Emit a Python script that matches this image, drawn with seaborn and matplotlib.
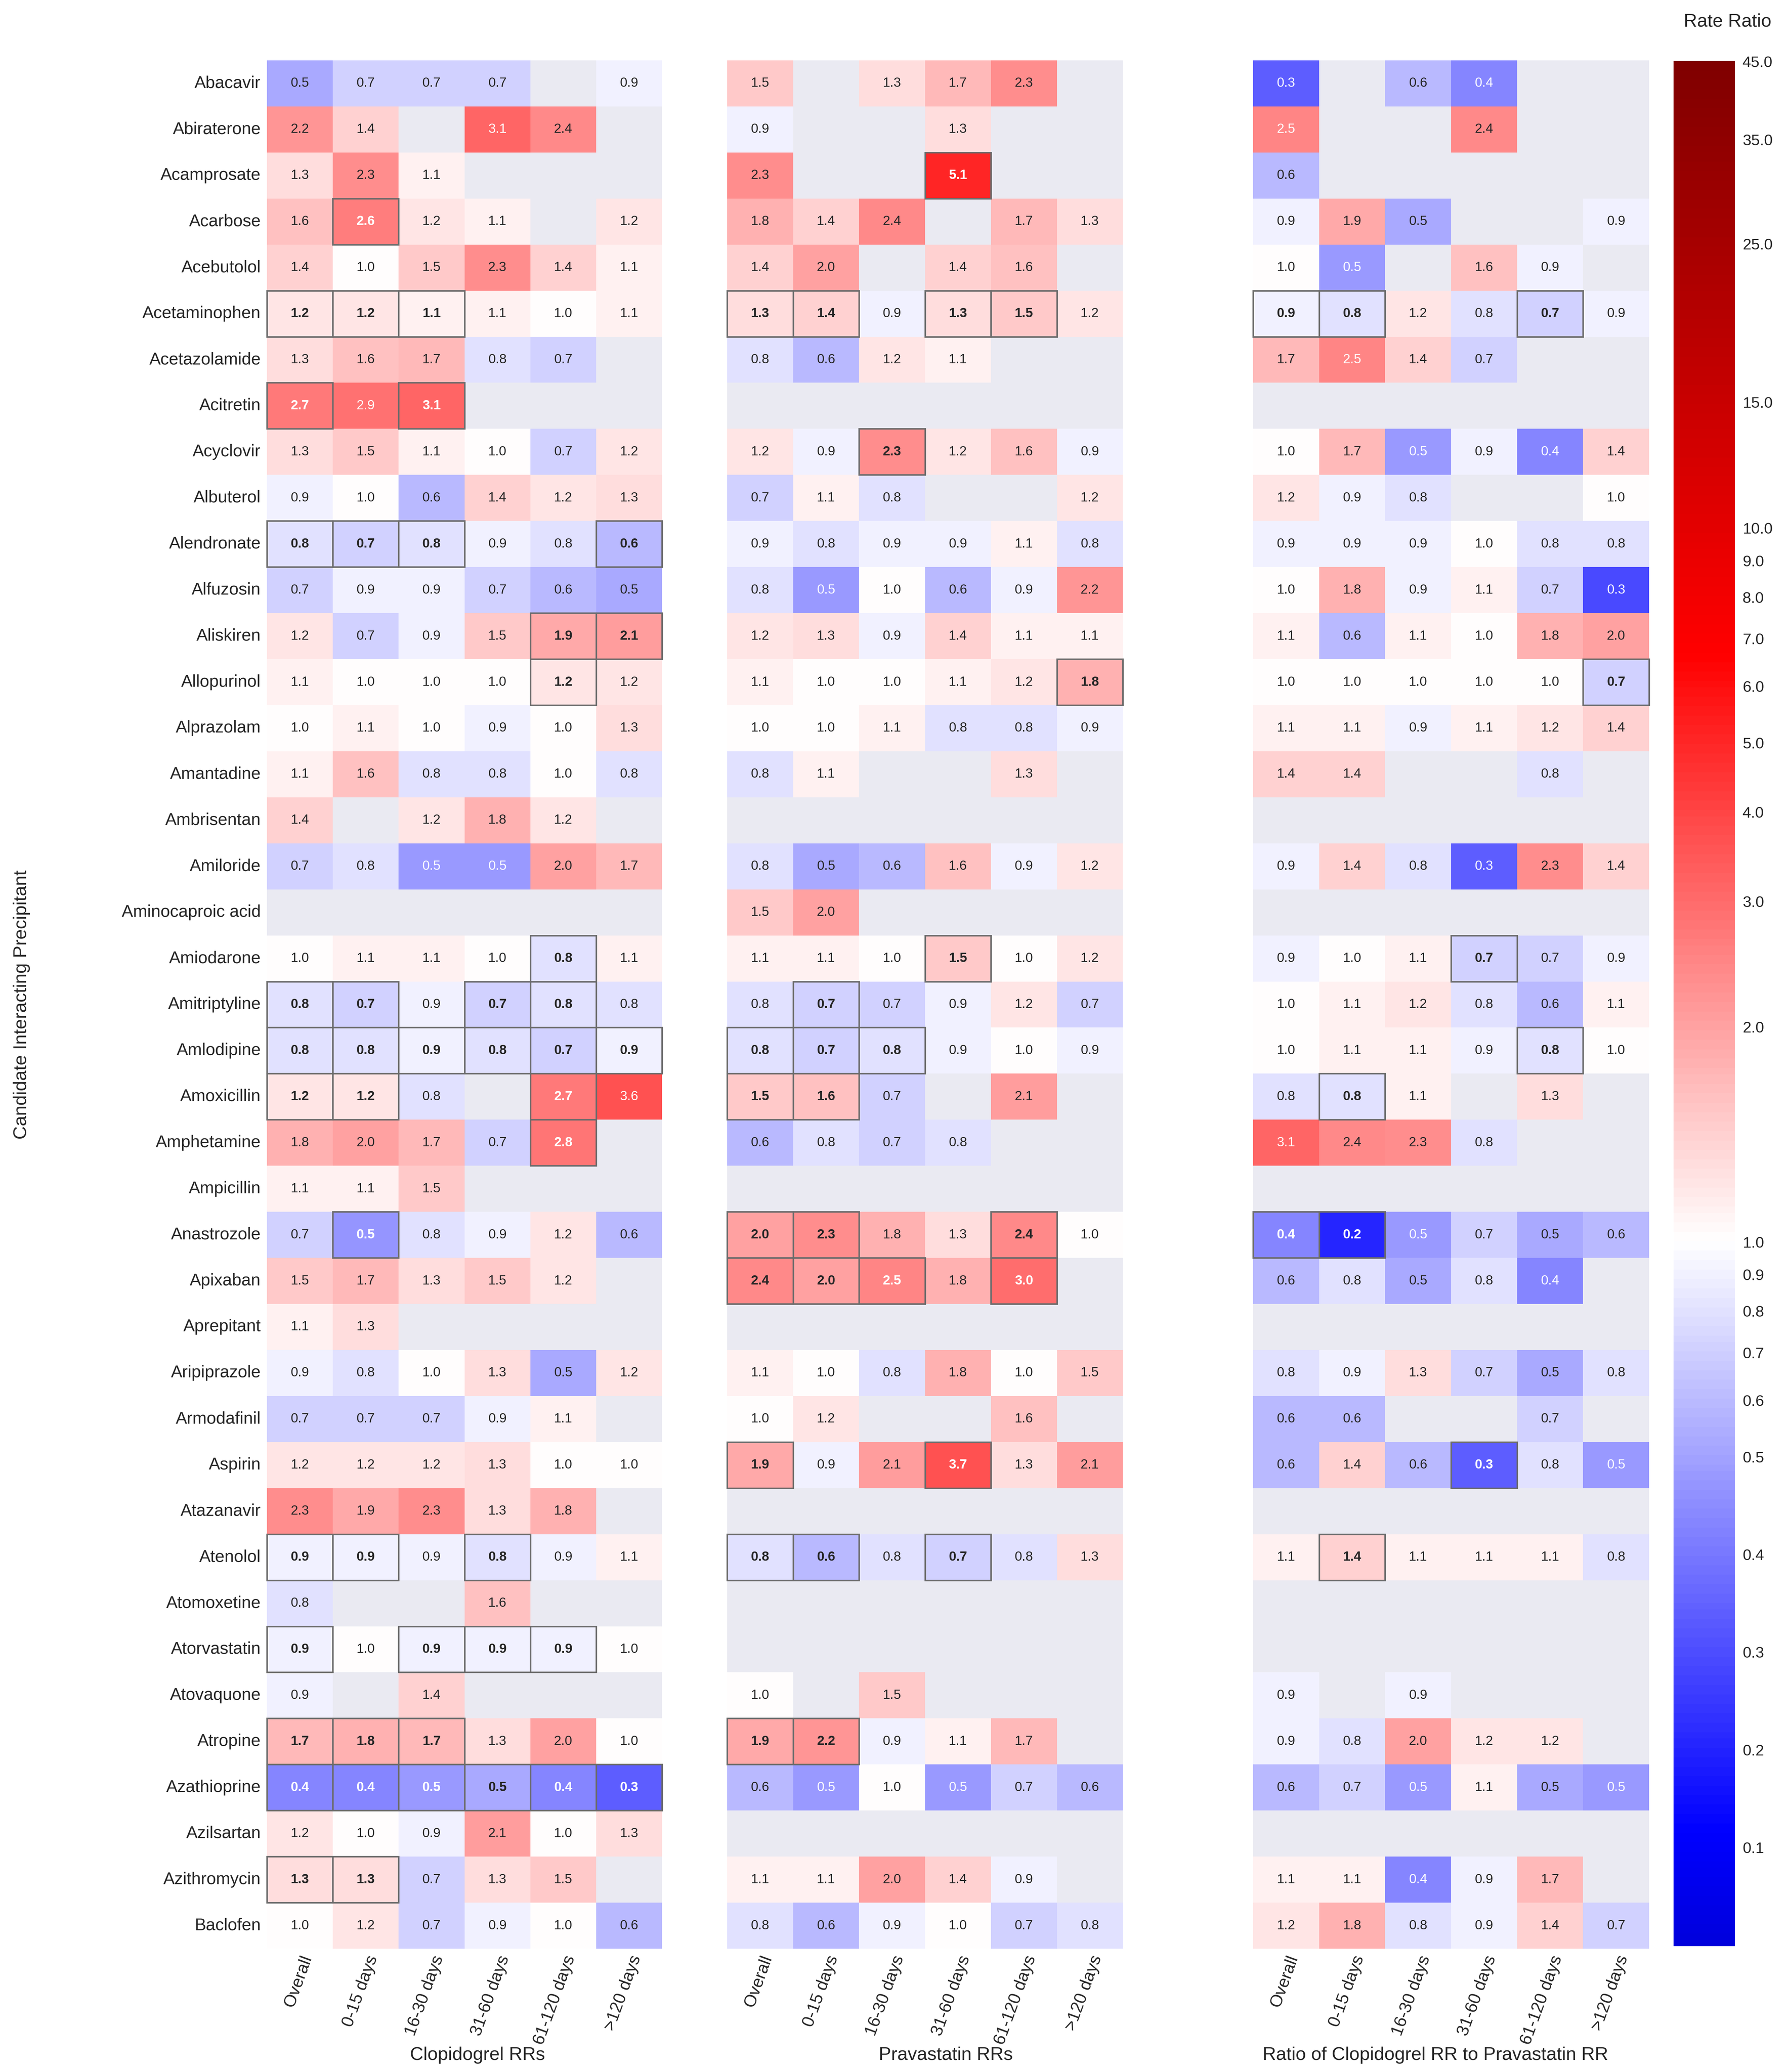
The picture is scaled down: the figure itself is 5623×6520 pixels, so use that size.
import numpy as np
import matplotlib
matplotlib.use("Agg")
import matplotlib.pyplot as plt
import seaborn as sns
from matplotlib.patches import Rectangle

nan = np.nan

drugs = ["Abacavir", "Abiraterone", "Acamprosate", "Acarbose", "Acebutolol",
         "Acetaminophen", "Acetazolamide", "Acitretin", "Acyclovir", "Albuterol",
         "Alendronate", "Alfuzosin", "Aliskiren", "Allopurinol", "Alprazolam",
         "Amantadine", "Ambrisentan", "Amiloride", "Aminocaproic acid", "Amiodarone",
         "Amitriptyline", "Amlodipine", "Amoxicillin", "Amphetamine", "Ampicillin",
         "Anastrozole", "Apixaban", "Aprepitant", "Aripiprazole", "Armodafinil",
         "Aspirin", "Atazanavir", "Atenolol", "Atomoxetine", "Atorvastatin",
         "Atovaquone", "Atropine", "Azathioprine", "Azilsartan", "Azithromycin",
         "Baclofen"]

periods = ["Overall", "0-15 days", "16-30 days", "31-60 days", "61-120 days", ">120 days"]

clopidogrel_rr = [
    [0.52, 0.7, 0.7, 0.7, nan, 0.9],
    [2.2, 1.4, nan, 3.1, 2.4, nan],
    [1.3, 2.3, 1.1, nan, nan, nan],
    [1.6, 2.6, 1.2, 1.1, nan, 1.2],
    [1.4, 1.0, 1.5, 2.3, 1.4, 1.1],
    [1.2, 1.2, 1.1, 1.1, 1.0, 1.1],
    [1.3, 1.6, 1.7, 0.8, 0.7, nan],
    [2.7, 2.9, 3.1, nan, nan, nan],
    [1.3, 1.5, 1.1, 1.0, 0.7, 1.2],
    [0.9, 1.0, 0.6, 1.4, 1.2, 1.3],
    [0.8, 0.7, 0.8, 0.9, 0.8, 0.6],
    [0.7, 0.9, 0.9, 0.7, 0.6, 0.52],
    [1.2, 0.7, 0.9, 1.5, 1.9, 2.1],
    [1.1, 1.0, 1.0, 1.0, 1.2, 1.2],
    [1.0, 1.1, 1.0, 0.9, 1.0, 1.3],
    [1.1, 1.6, 0.8, 0.8, 1.0, 0.8],
    [1.4, nan, 1.2, 1.8, 1.2, nan],
    [0.7, 0.8, 0.47, 0.47, 2.0, 1.7],
    [nan, nan, nan, nan, nan, nan],
    [1.0, 1.1, 1.1, 1.0, 0.8, 1.1],
    [0.8, 0.7, 0.9, 0.7, 0.8, 0.8],
    [0.8, 0.8, 0.9, 0.8, 0.7, 0.9],
    [1.2, 1.2, 0.8, nan, 2.7, 3.6],
    [1.8, 2.0, 1.7, 0.7, 2.8, nan],
    [1.1, 1.1, 1.5, nan, nan, nan],
    [0.7, 0.46, 0.8, 0.9, 1.2, 0.6],
    [1.5, 1.7, 1.3, 1.5, 1.2, nan],
    [1.1, 1.3, nan, nan, nan, nan],
    [0.9, 0.8, 1.0, 1.3, 0.52, 1.2],
    [0.7, 0.7, 0.7, 0.9, 1.1, nan],
    [1.2, 1.2, 1.2, 1.3, 1.0, 1.0],
    [2.3, 1.9, 2.3, 1.3, 1.8, nan],
    [0.9, 0.9, 0.9, 0.8, 0.9, 1.1],
    [0.8, nan, nan, 1.6, nan, nan],
    [0.9, 1.0, 0.9, 0.9, 0.9, 1.0],
    [0.9, nan, 1.4, nan, nan, nan],
    [1.7, 1.8, 1.7, 1.3, 2.0, 1.0],
    [0.4, 0.4, 0.47, 0.53, 0.4, 0.3],
    [1.2, 1.0, 0.9, 2.1, 1.0, 1.3],
    [1.3, 1.3, 0.7, 1.3, 1.5, nan],
    [1.0, 1.2, 0.7, 0.9, 1.0, 0.6],
]

pravastatin_rr = [
    [1.5, nan, 1.3, 1.7, 2.3, nan],
    [0.9, nan, nan, 1.3, nan, nan],
    [2.3, nan, nan, 5.1, nan, nan],
    [1.8, 1.4, 2.4, nan, 1.7, 1.3],
    [1.4, 2.0, nan, 1.4, 1.6, nan],
    [1.3, 1.4, 0.9, 1.3, 1.5, 1.2],
    [0.8, 0.6, 1.2, 1.1, nan, nan],
    [nan, nan, nan, nan, nan, nan],
    [1.2, 0.9, 2.3, 1.2, 1.6, 0.9],
    [0.7, 1.1, 0.8, nan, nan, 1.2],
    [0.9, 0.8, 0.9, 0.9, 1.1, 0.8],
    [0.8, 0.47, 1.0, 0.6, 0.9, 2.2],
    [1.2, 1.3, 0.9, 1.4, 1.1, 1.1],
    [1.1, 1.0, 1.0, 1.1, 1.2, 1.8],
    [1.0, 1.0, 1.1, 0.8, 0.8, 0.9],
    [0.8, 1.1, nan, nan, 1.3, nan],
    [nan, nan, nan, nan, nan, nan],
    [0.8, 0.52, 0.6, 1.6, 0.9, 1.2],
    [1.5, 2.0, nan, nan, nan, nan],
    [1.1, 1.1, 1.0, 1.5, 1.0, 1.2],
    [0.8, 0.7, 0.7, 0.9, 1.2, 0.7],
    [0.8, 0.7, 0.8, 0.9, 1.0, 0.9],
    [1.5, 1.6, 0.7, nan, 2.1, nan],
    [0.6, 0.8, 0.7, 0.8, nan, nan],
    [nan, nan, nan, nan, nan, nan],
    [2.0, 2.3, 1.8, 1.3, 2.4, 1.0],
    [2.4, 2.0, 2.5, 1.8, 3.0, nan],
    [nan, nan, nan, nan, nan, nan],
    [1.1, 1.0, 0.8, 1.8, 1.0, 1.5],
    [1.0, 1.2, nan, nan, 1.6, nan],
    [1.9, 0.9, 2.1, 3.7, 1.3, 2.1],
    [nan, nan, nan, nan, nan, nan],
    [0.8, 0.6, 0.8, 0.7, 0.8, 1.3],
    [nan, nan, nan, nan, nan, nan],
    [nan, nan, nan, nan, nan, nan],
    [1.0, nan, 1.5, nan, nan, nan],
    [1.9, 2.2, 0.9, 1.1, 1.7, nan],
    [0.6, 0.47, 1.0, 0.47, 0.7, 0.6],
    [nan, nan, nan, nan, nan, nan],
    [1.1, 1.1, 2.0, 1.4, 0.9, nan],
    [0.8, 0.6, 0.9, 1.0, 0.7, 0.8],
]

ratio_rr = [
    [0.3, nan, 0.6, 0.4, nan, nan],
    [2.5, nan, nan, 2.4, nan, nan],
    [0.6, nan, nan, nan, nan, nan],
    [0.9, 1.9, 0.52, nan, nan, 0.9],
    [1.0, 0.47, nan, 1.6, 0.9, nan],
    [0.9, 0.8, 1.2, 0.8, 0.7, 0.9],
    [1.7, 2.5, 1.4, 0.7, nan, nan],
    [nan, nan, nan, nan, nan, nan],
    [1.0, 1.7, 0.47, 0.9, 0.4, 1.4],
    [1.2, 0.9, 0.8, nan, nan, 1.0],
    [0.9, 0.9, 0.9, 1.0, 0.8, 0.8],
    [1.0, 1.8, 0.9, 1.1, 0.7, 0.26],
    [1.1, 0.6, 1.1, 1.0, 1.8, 2.0],
    [1.0, 1.0, 1.0, 1.0, 1.0, 0.7],
    [1.1, 1.1, 0.9, 1.1, 1.2, 1.4],
    [1.4, 1.4, nan, nan, 0.8, nan],
    [nan, nan, nan, nan, nan, nan],
    [0.9, 1.4, 0.8, 0.3, 2.3, 1.4],
    [nan, nan, nan, nan, nan, nan],
    [0.9, 1.0, 1.1, 0.7, 0.7, 0.9],
    [1.0, 1.1, 1.2, 0.8, 0.6, 1.1],
    [1.0, 1.1, 1.1, 0.9, 0.8, 1.0],
    [0.8, 0.8, 1.1, nan, 1.3, nan],
    [3.1, 2.44, 2.3, 0.8, nan, nan],
    [nan, nan, nan, nan, nan, nan],
    [0.4, 0.2, 0.47, 0.7, 0.52, 0.6],
    [0.6, 0.8, 0.52, 0.8, 0.4, nan],
    [nan, nan, nan, nan, nan, nan],
    [0.8, 0.9, 1.3, 0.7, 0.52, 0.8],
    [0.6, 0.6, nan, nan, 0.7, nan],
    [0.6, 1.4, 0.6, 0.3, 0.8, 0.47],
    [nan, nan, nan, nan, nan, nan],
    [1.1, 1.4, 1.1, 1.1, 1.1, 0.8],
    [nan, nan, nan, nan, nan, nan],
    [nan, nan, nan, nan, nan, nan],
    [0.9, nan, 0.9, nan, nan, nan],
    [0.9, 0.8, 2.0, 1.2, 1.2, nan],
    [0.6, 0.7, 0.47, 1.1, 0.52, 0.47],
    [nan, nan, nan, nan, nan, nan],
    [1.1, 1.1, 0.4, 0.9, 1.7, nan],
    [1.2, 1.8, 0.8, 0.9, 1.4, 0.7],
]

# 1 = significant (bold + outlined)
clopidogrel_sig = ["000000", "000000", "000000", "010000", "000000", "111000", "000000",
                   "101000", "000000", "000000", "111001", "000000", "000011", "000010",
                   "000000", "000000", "000000", "000000", "000000", "000010", "110110",
                   "111111", "110010", "000010", "000000", "010000", "000000", "000000",
                   "000000", "000000", "000000", "000000", "110100", "000000", "101110",
                   "000000", "111000", "111111", "000000", "110000", "000000"]
pravastatin_sig = ["000000", "000000", "000100", "000000", "000000", "110110", "000000",
                   "000000", "001000", "000000", "000000", "000000", "000000", "000001",
                   "000000", "000000", "000000", "000000", "000000", "000100", "010000",
                   "111000", "110000", "000000", "000000", "110010", "111010", "000000",
                   "000000", "000000", "100100", "000000", "110100", "000000", "000000",
                   "000000", "110000", "000000", "000000", "000000", "000000"]
ratio_sig = ["000000", "000000", "000000", "000000", "000000", "110010", "000000",
             "000000", "000000", "000000", "000000", "000000", "000000", "000001",
             "000000", "000000", "000000", "000000", "000000", "000100", "000000",
             "000010", "010000", "000000", "000000", "110000", "000000", "000000",
             "000000", "000000", "000100", "000000", "010000", "000000", "000000",
             "000000", "000000", "000000", "000000", "000000", "000000"]

cbar_ticks = [0.1, 0.2, 0.3, 0.4, 0.5, 0.6, 0.7, 0.8, 0.9, 1, 2, 3, 4, 5, 6, 7, 8, 9, 10,
              15, 25, 35, 45]

sns.set_theme(style="darkgrid")
plt.rcParams["font.family"] = ["Liberation Sans", "DejaVu Sans"]

W, H = 5623, 6520
fig = plt.figure(figsize=(W / 350, H / 350), dpi=350)


def box(x0, x1, y0, y1):
    return [x0 / W, 1 - y1 / H, (x1 - x0) / W, (y1 - y0) / H]


lim = np.log(45)
cax = fig.add_axes(box(5266, 5459, 192, 6124))

groups = [
    ("Clopidogrel RRs", clopidogrel_rr, clopidogrel_sig, (840, 2083), 0.533),
    ("Pravastatin RRs", pravastatin_rr, pravastatin_sig, (2288, 3533), 0.553),
    ("Ratio of Clopidogrel RR to Pravastatin RR", ratio_rr, ratio_sig, (3943, 5189), 0.46),
]

for i, (title, vals, sig, (x0, x1), lab_x) in enumerate(groups):
    ax = fig.add_axes(box(x0, x1, 190, 6132))
    vals = np.array(vals, dtype=float)
    last = i == len(groups) - 1
    sns.heatmap(np.log(vals), ax=ax, cmap="seismic", vmin=-lim, vmax=lim,
                annot=vals, fmt=".1f", annot_kws={"size": 8.6},
                xticklabels=periods, yticklabels=drugs if i == 0 else False,
                cbar=last, cbar_ax=cax if last else None,
                cbar_kws={"boundaries": np.linspace(np.log(0.1032), lim * 1.0005, 600)})
    ax.grid(False)
    for t in ax.texts:
        x, y = t.get_position()
        r, c = int(y), int(x)
        if sig[r][c] == "1":
            t.set_fontweight("bold")
            ax.add_patch(Rectangle((c, r), 1, 1, fill=False, ec="0.42", lw=1.0,
                                   clip_on=False, zorder=3))
    ax.set_xticklabels(periods, rotation=70, ha="right", va="top",
                       rotation_mode="anchor", fontsize=11)
    ax.tick_params(axis="both", length=0)
    ax.tick_params(axis="x", pad=3)
    ax.tick_params(axis="y", pad=4)
    if i == 0:
        ax.set_yticklabels(drugs, rotation=0, fontsize=11)
        ax.set_ylabel("Candidate Interacting Precipitant", fontsize=12)
        ax.yaxis.set_label_coords(-0.599, 0.5)
    ax.set_xlabel(title, fontsize=12)
    ax.xaxis.set_label_coords(lab_x, -0.0518)

# tick positions on the colour bar (lower ticks spaced evenly below 0.5)
pos = [np.log(v) if v >= 0.5 else -(np.log(2) + (0.5 - v) * 3.149) for v in cbar_ticks]
cb = fig.axes[-1].collections[0].colorbar
cb.set_ticks(pos, labels=[f"{v:.1f}" for v in cbar_ticks])
cax.tick_params(length=0, labelsize=10, pad=5)
cb.outline.set_linewidth(0)

fig.text(5436 / W, 1 - 69 / H, "Rate Ratio", ha="center", va="center", fontsize=12)

fig.savefig("out.png", dpi=350)
